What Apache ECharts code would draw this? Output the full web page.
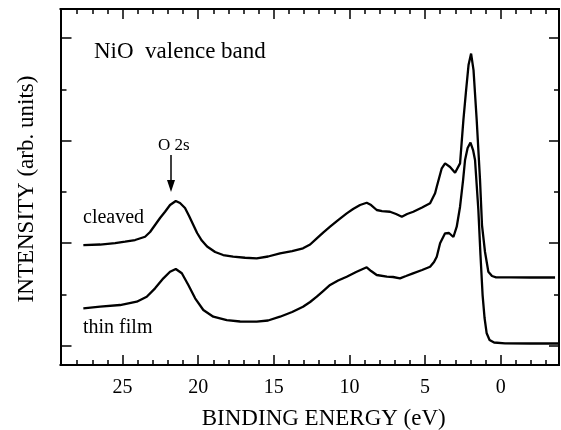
<!DOCTYPE html>
<html>
<head>
<meta charset="utf-8">
<script src="https://cdn.jsdelivr.net/npm/echarts@6/dist/echarts.min.js"></script>
<style>
  html, body { margin: 0; padding: 0; background: #fff; }
  #chart { width: 561px; height: 430px; }
</style>
</head>
<body>
<div id="chart"></div>
<script>
// binding energy (eV) / intensity (arb. units, offset)
const cleavedEnergy = [27.59, 26.48, 25.49, 24.83, 24.17, 23.51, 23.18, 22.85, 22.52, 22.19, 21.86, 21.48, 21.20, 20.87, 20.60, 20.32, 20.07, 19.76, 19.41, 18.88, 18.35, 17.69, 16.90, 16.13, 15.38, 14.59, 13.79, 13.07, 12.60, 12.16, 11.74, 11.28, 10.75, 10.18, 9.76, 9.30, 8.86, 8.57, 8.20, 7.85, 7.32, 6.92, 6.54, 6.19, 5.78, 5.20, 4.67, 4.34, 4.23, 3.90, 3.68, 3.35, 3.02, 2.69, 2.47, 2.29, 2.13, 1.96, 1.80, 1.59, 1.37, 1.24, 1.04, 0.82, 0.58, 0.31, -0.61, -1.94, -3.59];
const cleavedIntensity = [2.342, 2.352, 2.381, 2.407, 2.440, 2.504, 2.596, 2.733, 2.869, 2.992, 3.123, 3.201, 3.162, 3.065, 2.908, 2.733, 2.577, 2.430, 2.313, 2.206, 2.147, 2.114, 2.094, 2.083, 2.118, 2.180, 2.225, 2.278, 2.352, 2.473, 2.586, 2.700, 2.830, 2.961, 3.045, 3.123, 3.168, 3.123, 3.026, 3.006, 2.992, 2.947, 2.895, 2.947, 2.992, 3.074, 3.156, 3.352, 3.480, 3.840, 3.937, 3.865, 3.754, 3.937, 4.782, 5.368, 5.856, 6.080, 5.758, 4.782, 3.611, 2.733, 2.206, 1.821, 1.737, 1.712, 1.712, 1.708, 1.708];

const filmEnergy = [27.59, 26.48, 25.16, 24.06, 23.40, 22.85, 22.30, 21.86, 21.48, 21.08, 20.65, 20.20, 19.66, 19.00, 18.11, 17.23, 16.13, 15.38, 14.59, 13.79, 13.07, 12.60, 12.16, 11.74, 11.28, 10.75, 10.18, 9.56, 8.86, 8.57, 8.20, 7.53, 7.12, 6.66, 6.26, 5.80, 5.20, 4.67, 4.41, 4.23, 4.01, 3.68, 3.42, 3.13, 2.91, 2.69, 2.49, 2.36, 2.19, 2.00, 1.83, 1.70, 1.48, 1.34, 1.20, 1.07, 0.93, 0.74, 0.44, -0.28, -1.94, -3.85];
const filmIntensity = [1.107, 1.138, 1.171, 1.236, 1.333, 1.497, 1.692, 1.821, 1.874, 1.790, 1.562, 1.302, 1.074, 0.943, 0.878, 0.849, 0.845, 0.869, 0.943, 1.035, 1.138, 1.230, 1.333, 1.444, 1.562, 1.649, 1.724, 1.815, 1.907, 1.835, 1.757, 1.724, 1.718, 1.692, 1.737, 1.790, 1.854, 1.919, 2.011, 2.114, 2.376, 2.571, 2.577, 2.499, 2.700, 3.090, 3.611, 4.002, 4.236, 4.343, 4.197, 4.002, 3.026, 2.147, 1.366, 0.917, 0.619, 0.488, 0.439, 0.424, 0.420, 0.420];

const xMajorTicks = [25, 20, 15, 10, 5, 0];
const xMinorTicks = [28, 27, 26, 24, 23, 22, 21, 19, 18, 17, 16, 14, 13, 12, 11, 9, 8, 7, 6, 4, 3, 2, 1, -1, -2, -3];
const yMajorTicks = [0.38, 2.38, 4.38, 6.38];
const yMinorTicks = [1.38, 3.38, 5.38];

const font = 'Liberation Serif';
const X_MIN = -3.85, X_MAX = 29.1, Y_MIN = 0, Y_MAX = 6.95;

function xAxis(pos, ticks, len, withLabels) {
  return {
    type: 'value', position: pos, min: X_MIN, max: X_MAX, inverse: true,
    axisLine: {show: true, onZero: false, lineStyle: {color: '#000', width: 2}},
    axisTick: {show: true, inside: true, length: len, customValues: ticks,
      lineStyle: {color: '#000', width: 1.5}},
    axisLabel: withLabels ? {show: true, customValues: ticks, margin: 13,
      color: '#000', fontFamily: font, fontSize: 20} : {show: false},
    splitLine: {show: false},
    name: withLabels ? 'BINDING ENERGY (eV)' : '',
    nameLocation: 'middle', nameGap: 42,
    nameTextStyle: {color: '#000', fontFamily: font, fontSize: 23, padding: [0, 0, 0, 28]}
  };
}

function yAxis(pos, ticks, len, withName) {
  return {
    type: 'value', position: pos, min: Y_MIN, max: Y_MAX,
    axisLine: {show: true, onZero: false, lineStyle: {color: '#000', width: 2}},
    axisTick: {show: true, inside: true, length: len, customValues: ticks,
      lineStyle: {color: '#000', width: 1.5}},
    axisLabel: {show: false},
    splitLine: {show: false},
    name: withName ? 'INTENSITY (arb. units)' : '',
    nameLocation: 'middle', nameGap: 22,
    nameTextStyle: {color: '#000', fontFamily: font, fontSize: 23, padding: [0, 4, 0, 0]}
  };
}

const chart = echarts.init(document.getElementById('chart'));
chart.setOption({
  animation: false,
  backgroundColor: '#fff',
  grid: {left: 60.5, right: 2, top: 9, bottom: 65, containLabel: false, outerBoundsMode: 'none'},
  xAxis: [
    xAxis('bottom', xMajorTicks, 10, true),
    xAxis('bottom', xMinorTicks, 5, false),
    xAxis('top', xMajorTicks, 10, false),
    xAxis('top', xMinorTicks, 5, false)
  ],
  yAxis: [
    yAxis('left', yMajorTicks, 11, true),
    yAxis('left', yMinorTicks, 6, false),
    yAxis('right', yMajorTicks, 10, false),
    yAxis('right', yMinorTicks, 5, false)
  ],
  series: [
    {
      name: 'cleaved', type: 'line', showSymbol: false,
      data: cleavedEnergy.map((e, i) => [e, cleavedIntensity[i]]),
      lineStyle: {color: '#000', width: 2.3}
    },
    {
      name: 'thin film', type: 'line', showSymbol: false,
      data: filmEnergy.map((e, i) => [e, filmIntensity[i]]),
      lineStyle: {color: '#000', width: 2.3}
    }
  ],
  graphic: [
    {type: 'text', left: 94, top: 40,
      style: {text: 'NiO  valence band', font: '23px ' + font, fill: '#000'}},
    {type: 'text', left: 158, top: 137,
      style: {text: 'O 2s', font: '17px ' + font, fill: '#000'}},
    {type: 'line', shape: {x1: 171, y1: 155, x2: 171, y2: 184},
      style: {stroke: '#000', lineWidth: 1.5}},
    {type: 'polygon', shape: {points: [[167, 180], [175, 180], [171, 192]]},
      style: {fill: '#000'}},
    {type: 'text', left: 83, top: 208,
      style: {text: 'cleaved', font: '20px ' + font, fill: '#000'}},
    {type: 'text', left: 83, top: 318,
      style: {text: 'thin film', font: '20px ' + font, fill: '#000'}}
  ]
});
</script>
</body>
</html>
